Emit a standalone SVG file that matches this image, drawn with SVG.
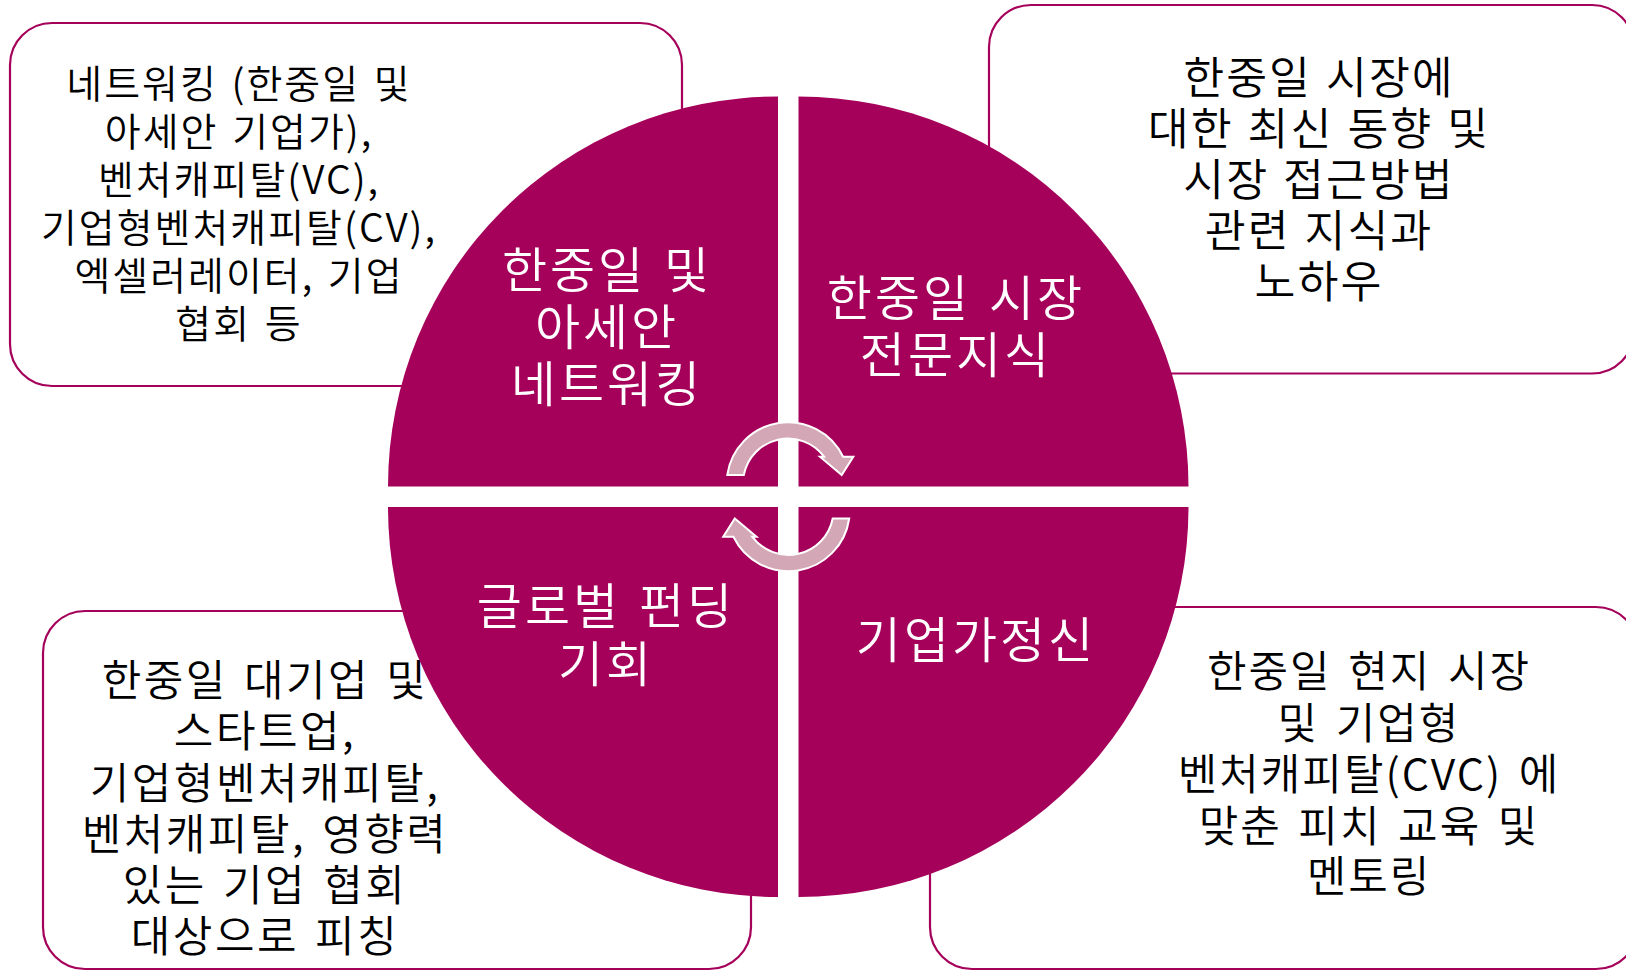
<svg xmlns="http://www.w3.org/2000/svg" width="1626" height="971" viewBox="0 0 1626 971">
<style>
.box{fill:#FFFFFF;stroke:#A5005A;stroke-width:2.2}
.quad{fill:#A5005A}
.arrow{fill:#D4A7B6;stroke:#FFFFFF;stroke-width:2}
text{font-family:"Noto Sans CJK KR","Noto Sans",sans-serif;text-anchor:middle;font-weight:350}
.bt{fill:#000000}
.qt{fill:#FFFFFF;font-size:49px;letter-spacing:3px;word-spacing:4px}
</style>
<rect width="1626" height="971" fill="#FFFFFF"/>
<g id="box-tl">
<rect class="box" x="10" y="23" width="672" height="363" rx="42"/>
<text class="bt" font-size="39" letter-spacing="2" word-spacing="3"><tspan x="239" y="97.5">네트워킹 (한중일 및</tspan><tspan x="239" y="146">아세안 기업가),</tspan><tspan x="239" y="194">벤처캐피탈(VC),</tspan><tspan x="239" y="242">기업형벤처캐피탈(CV),</tspan><tspan x="239" y="290">엑셀러레이터, 기업</tspan><tspan x="239" y="338">협회 등</tspan></text>
</g>
<g id="box-tr">
<rect class="box" x="989" y="5" width="645" height="368.5" rx="42"/>
<text class="bt" font-size="44.5" letter-spacing="2" word-spacing="2"><tspan x="1319" y="94">한중일 시장에</tspan><tspan x="1319" y="144.5">대한 최신 동향 및</tspan><tspan x="1319" y="195.5">시장 접근방법</tspan><tspan x="1319" y="247">관련 지식과</tspan><tspan x="1319" y="298">노하우</tspan></text>
</g>
<g id="box-bl">
<rect class="box" x="43" y="611" width="708" height="358" rx="42"/>
<text class="bt" font-size="43" letter-spacing="2.5" word-spacing="4"><tspan x="265" y="695.5">한중일 대기업 및</tspan><tspan x="265" y="747">스타트업,</tspan><tspan x="265" y="798.5">기업형벤처캐피탈,</tspan><tspan x="265" y="850">벤처캐피탈, 영향력</tspan><tspan x="265" y="901">있는 기업 협회</tspan><tspan x="265" y="952">대상으로 피칭</tspan></text>
</g>
<g id="box-br">
<rect class="box" x="930" y="607" width="708" height="362" rx="42"/>
<text class="bt" font-size="43" letter-spacing="2" word-spacing="5"><tspan x="1369" y="687">한중일 현지 시장</tspan><tspan x="1369" y="739">및 기업형</tspan><tspan x="1369" y="790">벤처캐피탈(CVC) 에</tspan><tspan x="1369" y="842">맞춘 피치 교육 및</tspan><tspan x="1369" y="892">멘토링</tspan></text>
</g>
<g id="quad-tl">
<path class="quad" d="M778,486.5 L778,96.5 A390,390 0 0 0 388,486.5 Z"/>
<text class="qt"><tspan x="607" y="288">한중일 및</tspan><tspan x="607" y="345">아세안</tspan><tspan x="607" y="402">네트워킹</tspan></text>
</g>
<g id="quad-tr">
<path class="quad" d="M798.5,486.5 L1188.5,486.5 A390,390 0 0 0 798.5,96.5 Z"/>
<text class="qt"><tspan x="956" y="316">한중일 시장</tspan><tspan x="956" y="373">전문지식</tspan></text>
</g>
<g id="quad-bl">
<path class="quad" d="M778,507 L388,507 A390,390 0 0 0 778,897 Z"/>
<text class="qt"><tspan x="606" y="624">글로벌 펀딩</tspan><tspan x="606" y="682">기회</tspan></text>
</g>
<g id="quad-br">
<path class="quad" d="M798.5,507 L798.5,897 A390,390 0 0 0 1188.5,507 Z"/>
<text class="qt"><tspan x="976" y="658">기업가정신</tspan></text>
</g>
<g id="connectors">
<path id="arrow-top" class="arrow" d="M727.3,475 A61.3,61.3 0 0 1 843.1,456.7 L853.3,456.7 L841.7,475 L820,456.7 L824.1,456.7 A45,45 0 0 0 743.8,475 Z"/>
<path id="arrow-bottom" class="arrow" transform="rotate(180 788.25 496.75)" d="M727.3,475 A61.3,61.3 0 0 1 843.1,456.7 L853.3,456.7 L841.7,475 L820,456.7 L824.1,456.7 A45,45 0 0 0 743.8,475 Z"/>
</g>
</svg>
